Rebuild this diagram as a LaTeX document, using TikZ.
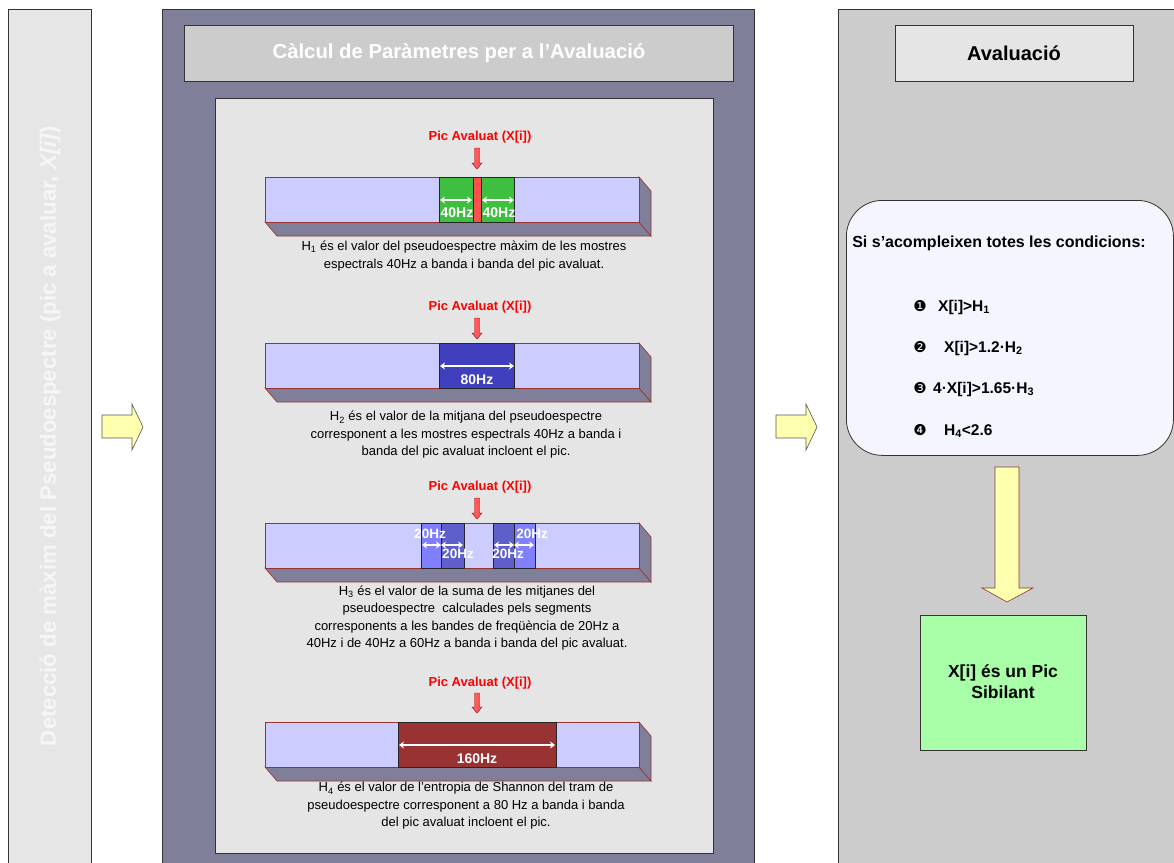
\documentclass[tikz,border=0pt]{standalone}
\usepackage{fontspec}
\setmainfont{Liberation Sans}
\newfontfamily\dingfont{DejaVu Sans}
\usetikzlibrary{arrows.meta,calc}

\definecolor{panelgray}{HTML}{E6E6E6}
\definecolor{slate}{HTML}{7F7F99}
\definecolor{headgray}{HTML}{CCCCCC}
\definecolor{innergray}{HTML}{E5E5E5}
\definecolor{lav}{HTML}{CCCCFF}
\definecolor{barside}{HTML}{7F7F99}
\definecolor{barline}{HTML}{993333}
\definecolor{gband}{HTML}{3FBF3F}
\definecolor{rpeak}{HTML}{FF5050}
\definecolor{bband}{HTML}{4040BF}
\definecolor{vlight}{HTML}{7F7FFF}
\definecolor{vdark}{HTML}{5F5FCC}
\definecolor{wine}{HTML}{993333}
\definecolor{picred}{HTML}{FF0000}
\definecolor{cream}{HTML}{FFFFB0}
\definecolor{mint}{HTML}{A8FFA8}
\definecolor{condfill}{HTML}{F5F5FF}
\definecolor{ghost}{HTML}{F6F6F6}

\newcommand\fs[2]{\fontsize{#1}{#2}\selectfont}

% one spectrum bar seen in perspective; #1 = top edge
\newcommand\specbar[1]{%
  \filldraw[barside, draw=barline, line width=0.6pt]
    (265,#1+45) -- (639,#1+45) -- (651,#1+59) -- (277,#1+59) -- cycle;
  \filldraw[barside, draw=barline, line width=0.6pt]
    (639,#1) -- (651,#1+14) -- (651,#1+59) -- (639,#1+45) -- cycle;
  \filldraw[lav, draw=barline, line width=0.6pt] (265,#1) rectangle (639,#1+45);
}
% small red arrow pointing at the evaluated peak; #1 = top, #2 = tip
\newcommand\peakarrow[2]{%
  \filldraw[fill=red!65, draw=red!60!black, line width=0.4pt]
    (474.5,#1) -- (479.5,#1) -- (479.5,#2-6) -- (482,#2-6) -- (477,#2)
    -- (472,#2-6) -- (474.5,#2-6) -- cycle;
}

\tikzset{
  box/.style={draw=black!80, line width=0.8pt, anchor=north west, inner sep=0pt},
  hz/.style={text=white, font=\bfseries\fs{14}{14}, inner sep=0pt},
  hzarrow/.style={white, line width=1.2pt,
    {Stealth[length=5pt,width=7pt]}-{Stealth[length=5pt,width=7pt]}},
  captext/.style={align=center, font=\fs{13}{17.5}, inner sep=0pt},
  pic/.style={text=picred, font=\bfseries\fs{13}{13}, inner sep=0pt},
  band/.style={draw=black!85, line width=0.6pt},
  bigarrow/.style={fill=cream, line width=0.6pt},
  cond/.style={anchor=west, font=\bfseries\fs{15.5}{15.5}, inner sep=0pt},
  bullet/.style={font=\dingfont\fs{15}{15}, inner sep=0pt},
}

\begin{document}
\begin{tikzpicture}[x=1pt,y=-1pt]
\useasboundingbox (0,0) rectangle (1174,862);
\fill[white] (0,0) rectangle (1174,862);
\clip (0,0) rectangle (1174,862);

% ---- left column
\node[box, fill=panelgray, minimum width=83, minimum height=870] (detpanel) at (8,9) {};
\node[rotate=90, text=ghost, font=\bfseries\fs{22.2}{22.2}, inner sep=0pt] (dettext) at (50,436)
  {Detecció de màxim del Pseudoespectre (pic a avaluar, \textit{X[i]})};

% ---- middle column
\node[box, fill=slate, minimum width=592, minimum height=870] (calcpanel) at (162,9) {};
\node[box, fill=headgray, minimum width=549, minimum height=56] (calchead) at (184,25) {};
\node[text=white, font=\bfseries\fs{20.3}{20.3}, inner sep=0pt] (calctitle) at (459,53)
  {Càlcul de Paràmetres per a l’Avaluació};
\node[box, fill=innergray, minimum width=498, minimum height=755] (calcinner) at (215,98) {};

% ---- right column
\node[box, fill=headgray, minimum width=350, minimum height=870] (evalpanel) at (838,9) {};
\node[box, fill=innergray, minimum width=238, minimum height=56] (evalhead) at (895,25) {};
\node[font=\bfseries\fs{20}{20}, inner sep=0pt] (evaltitle) at (1014,53) {Avaluació};

% ---- block arrows between columns
\filldraw[bigarrow, draw=black!65]
  (102,415) -- (132,415) -- (132,404) -- (143,427) -- (132,450) -- (132,438) -- (102,438) -- cycle;
\filldraw[bigarrow, draw=black!65]
  (776,415) -- (806,415) -- (806,404) -- (817,427) -- (806,450) -- (806,438) -- (776,438) -- cycle;

% ---- H1
\node[pic] (pic1) at (480,137) {Pic Avaluat (X[i])};
\peakarrow{148}{169}
\specbar{177}
\filldraw[band, fill=gband] (439,177) rectangle (473,222);
\filldraw[band, fill=gband] (481,177) rectangle (514,222);
\filldraw[band, fill=rpeak] (473,177) rectangle (481,222);
\coordinate (a1l) at (440,200); \coordinate (a1r) at (472,200);
\coordinate (a2l) at (482,200); \coordinate (a2r) at (514,200);
\draw[hzarrow] (a1l) -- (a1r);
\draw[hzarrow] (a2l) -- (a2r);
\node[hz] (hz1a) at (457,213) {40Hz};
\node[hz] (hz1b) at (499,213) {40Hz};
\node[captext] (cap1) at (464,256)
  {H\textsubscript{1} és el valor del pseudoespectre màxim de les mostres\\
   espectrals 40Hz a banda i banda del pic avaluat.};

% ---- H2
\node[pic] (pic2) at (480,307) {Pic Avaluat (X[i])};
\peakarrow{318}{339}
\specbar{343}
\filldraw[band, fill=bband] (439,343) rectangle (514,388);
\coordinate (b1l) at (440,366); \coordinate (b1r) at (514,366);
\draw[hzarrow] (b1l) -- (b1r);
\node[hz] (hz2) at (477,380) {80Hz};
\node[captext] (cap2) at (466,435)
  {H\textsubscript{2} és el valor de la mitjana del pseudoespectre\\
   corresponent a les mostres espectrals 40Hz a banda i\\
   banda del pic avaluat incloent el pic.};

% ---- H3
\node[pic] (pic3) at (480,487) {Pic Avaluat (X[i])};
\peakarrow{498}{519}
\specbar{523}
\filldraw[band, fill=vlight] (421,523) rectangle (441,568);
\filldraw[band, fill=vdark]  (441,523) rectangle (464,568);
\filldraw[band, fill=vdark]  (493,523) rectangle (514,568);
\filldraw[band, fill=vlight] (514,523) rectangle (535,568);
\coordinate (c1l) at (422,545); \coordinate (c1r) at (441,545);
\coordinate (c2l) at (441,545); \coordinate (c2r) at (463,545);
\coordinate (c3l) at (494,545); \coordinate (c3r) at (514,545);
\coordinate (c4l) at (514,545); \coordinate (c4r) at (534,545);
\draw[hzarrow] (c1l) -- (c1r);
\draw[hzarrow] (c2l) -- (c2r);
\draw[hzarrow] (c3l) -- (c3r);
\draw[hzarrow] (c4l) -- (c4r);
\node[hz, font=\bfseries\fs{13.5}{13.5}] (hz3a) at (430,534) {20Hz};
\node[hz, font=\bfseries\fs{13.5}{13.5}] (hz3b) at (458,554) {20Hz};
\node[hz, font=\bfseries\fs{13.5}{13.5}] (hz3c) at (508,554) {20Hz};
\node[hz, font=\bfseries\fs{13.5}{13.5}] (hz3d) at (532,534) {20Hz};
\node[captext] (cap3) at (467,618)
  {H\textsubscript{3} és el valor de la suma de les mitjanes del\\
   pseudoespectre\ \ calculades pels segments\\
   corresponents a les bandes de freqüència de 20Hz a\\
   40Hz i de 40Hz a 60Hz a banda i banda del pic avaluat.};

% ---- H4
\node[pic] (pic4) at (480,683) {Pic Avaluat (X[i])};
\peakarrow{693}{713}
\specbar{722}
\filldraw[band, fill=wine] (398,722) rectangle (556,767);
\coordinate (d1l) at (399,745); \coordinate (d1r) at (555,745);
\draw[hzarrow] (d1l) -- (d1r);
\node[hz] (hz4) at (477,759) {160Hz};
\node[captext] (cap4) at (466,806)
  {H\textsubscript{4} és el valor de l’entropia de Shannon del tram de\\
   pseudoespectre corresponent a 80 Hz a banda i banda\\
   del pic avaluat incloent el pic.};

% ---- conditions
\node[box, fill=condfill, rounded corners=36pt, minimum width=327, minimum height=255] (conds) at (846,200) {};
\node[font=\bfseries\fs{16}{16}, inner sep=0pt] (condhead) at (999,243) {Si s’acompleixen totes les condicions:};
\node[bullet] (n1) at (920,306) {❶};
\node[cond] (k1) at (938,307) {X[i]>H\textsubscript{1}};
\node[bullet] (n2) at (920,347) {❷};
\node[cond] (k2) at (944,348) {X[i]>1.2·H\textsubscript{2}};
\node[bullet] (n3) at (920,388) {❸};
\node[cond] (k3) at (933,389) {4·X[i]>1.65·H\textsubscript{3}};
\node[bullet] (n4) at (920,430) {❹};
\node[cond] (k4) at (944,431) {H\textsubscript{4}<2.6};

% ---- result
\node[box, fill=mint, minimum width=166, minimum height=135] (result) at (920,615) {};
\node[align=center, font=\bfseries\fs{17.5}{21}, inner sep=0pt] (restext) at (1003,682)
  {X[i] és un Pic\\Sibilant};

\filldraw[bigarrow, draw=red!45!black!80]
  (995,467) -- (1019,467) -- (1019,588) -- (1033,588) -- (1007,602)
  -- (982,588) -- (995,588) -- cycle;
\end{tikzpicture}
\end{document}
